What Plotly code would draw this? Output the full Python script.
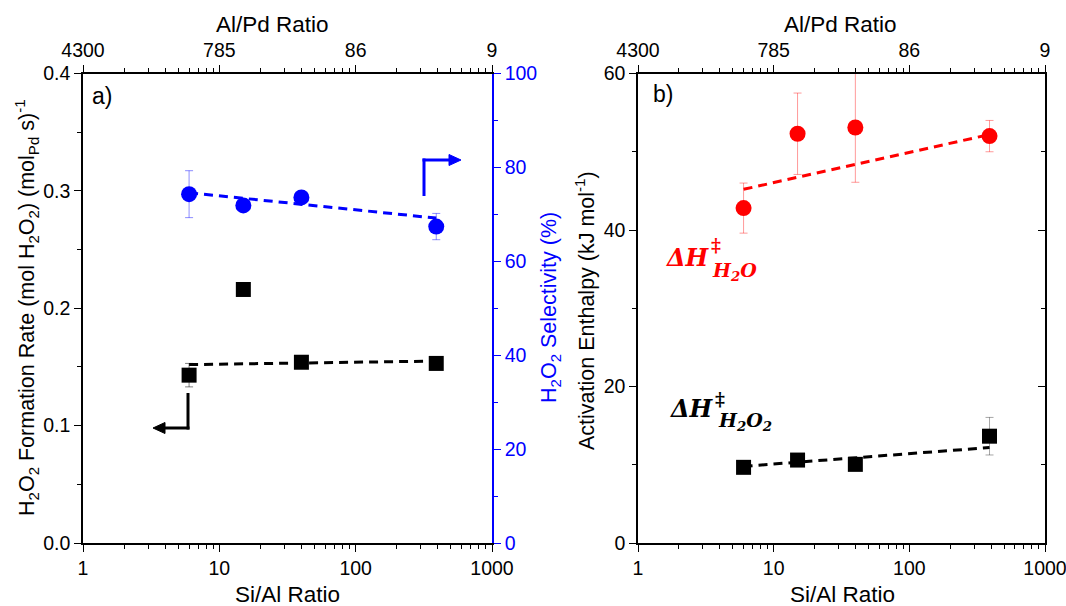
import plotly.graph_objects as go

# ---------------- data ----------------
si_al = [6, 15, 40, 390]
rate_h2o2 = [0.143, 0.216, 0.154, 0.153]
rate_err = [0.01, 0.005, 0.005, 0.005]
selectivity = [74.3, 71.9, 73.6, 67.4]
selectivity_err = [5.0, 1.0, 1.0, 2.8]
fit_x = [6, 390]
rate_fit = [0.152, 0.155]
sel_fit = [74.6, 69.2]

dh_h2o = [42.8, 52.3, 53.1, 52.0]
dh_h2o_err = [3.2, 5.2, 7.0, 2.0]
dh_h2o2 = [9.67, 10.6, 10.05, 13.65]
dh_h2o2_err = [0.5, 0.5, 0.5, 2.4]
dh_h2o_fit = [45.2, 52.2]
dh_h2o2_fit = [9.8, 12.2]

bottom_ticks = [1, 10, 100, 1000]
bottom_text = ["1", "10", "100", "1000"]
top_text = ["4300", "785", "86", "9"]
minor_vals = [m * d for d in (1, 10, 100) for m in range(2, 10)]

W, H = 1066, 606
FONT = "Liberation Sans, Arial, sans-serif"
BLUE = "#0000FF"
RED = "#FF0000"
TICK_SIZE = 19.5
XTITLE_SIZE = 22.5
YTITLE_SIZE = 21.5


def px(x):
    return x / W


def py(y):
    return 1 - y / H


XA = [px(83), px(492)]
XB = [px(638), px(1045)]
YD = [py(543), py(73.5)]

fig = go.Figure()

# ---- panel a ----
fig.add_trace(go.Scatter(x=fit_x, y=rate_fit, mode="lines", xaxis="x", yaxis="y",
                         line=dict(color="black", width=3, dash="9px,6px"), showlegend=False))
fig.add_trace(go.Scatter(x=si_al, y=rate_h2o2, mode="markers", xaxis="x", yaxis="y",
                         marker=dict(symbol="square", size=15, color="black"),
                         error_y=dict(type="data", array=rate_err, color="rgba(0,0,0,0.5)",
                                      thickness=1, width=4),
                         showlegend=False))
fig.add_trace(go.Scatter(x=fit_x, y=sel_fit, mode="lines", xaxis="x", yaxis="y2",
                         line=dict(color=BLUE, width=3, dash="9px,6px"), showlegend=False))
fig.add_trace(go.Scatter(x=si_al, y=selectivity, mode="markers", xaxis="x", yaxis="y2",
                         marker=dict(symbol="circle", size=16, color=BLUE),
                         error_y=dict(type="data", array=selectivity_err, color="rgba(0,0,255,0.45)",
                                      thickness=1, width=4),
                         showlegend=False))
fig.add_trace(go.Scatter(x=[10], y=[0.2], mode="markers", xaxis="x2", yaxis="y",
                         marker=dict(opacity=0), showlegend=False, hoverinfo="skip"))

# ---- panel b ----
fig.add_trace(go.Scatter(x=fit_x, y=dh_h2o_fit, mode="lines", xaxis="x3", yaxis="y3",
                         line=dict(color=RED, width=3, dash="9px,6px"), showlegend=False))
fig.add_trace(go.Scatter(x=si_al, y=dh_h2o, mode="markers", xaxis="x3", yaxis="y3",
                         marker=dict(symbol="circle", size=16, color=RED),
                         error_y=dict(type="data", array=dh_h2o_err, color="rgba(255,0,0,0.4)",
                                      thickness=1, width=4),
                         showlegend=False))
fig.add_trace(go.Scatter(x=fit_x, y=dh_h2o2_fit, mode="lines", xaxis="x3", yaxis="y3",
                         line=dict(color="black", width=3, dash="9px,6px"), showlegend=False))
fig.add_trace(go.Scatter(x=si_al, y=dh_h2o2, mode="markers", xaxis="x3", yaxis="y3",
                         marker=dict(symbol="square", size=15, color="black"),
                         error_y=dict(type="data", array=dh_h2o2_err, color="rgba(0,0,0,0.35)",
                                      thickness=1, width=4),
                         showlegend=False))
fig.add_trace(go.Scatter(x=[10], y=[30], mode="markers", xaxis="x4", yaxis="y3",
                         marker=dict(opacity=0), showlegend=False, hoverinfo="skip"))
fig.add_trace(go.Scatter(x=[10], y=[30], mode="markers", xaxis="x3", yaxis="y4",
                         marker=dict(opacity=0), showlegend=False, hoverinfo="skip"))

tickfont = dict(family=FONT, size=TICK_SIZE, color="black")
common_x = dict(type="log", range=[0, 3], showgrid=False, zeroline=False, showline=True,
                automargin=False, ticklabeloverflow="allow",
                linecolor="black", linewidth=1.5, ticks="outside", ticklen=7, tickwidth=1.3,
                tickcolor="black", tickmode="array", tickvals=bottom_ticks,
                minor=dict(tickmode="array", tickvals=minor_vals, ticks="outside", ticklen=4,
                           tickwidth=1.2, tickcolor="black", showgrid=False),
                tickfont=tickfont)

fig.update_layout(
    width=W, height=H, margin=dict(l=0, r=0, t=0, b=0, autoexpand=False),
    paper_bgcolor="white", plot_bgcolor="white",
    xaxis=dict(domain=XA, anchor="y", ticktext=bottom_text, **common_x),
    xaxis2=dict(overlaying="x", side="top", anchor="y", ticktext=top_text, **common_x),
    yaxis=dict(domain=YD, anchor="x", range=[0, 0.4], showgrid=False, zeroline=False,
               automargin=False, ticklabeloverflow="allow",
               showline=True, linecolor="black", linewidth=1.5, ticks="outside", ticklen=7,
               tickwidth=1.3, tickcolor="black", tickvals=[0, 0.1, 0.2, 0.3, 0.4],
               ticktext=["0.0", "0.1", "0.2", "0.3", "0.4"], tickfont=tickfont,
               minor=dict(tickmode="array", tickvals=[0.05, 0.15, 0.25, 0.35], ticks="outside",
                          ticklen=4, tickwidth=1.2, tickcolor="black", showgrid=False)),
    yaxis2=dict(overlaying="y", side="right", anchor="x", range=[0, 100], showgrid=False,
                automargin=False, ticklabeloverflow="allow",
                zeroline=False, showline=True, linecolor=BLUE, linewidth=1.5, ticks="outside",
                ticklen=7, tickwidth=1.3, tickcolor=BLUE, tickvals=[0, 20, 40, 60, 80, 100],
                tickfont=dict(family=FONT, size=TICK_SIZE, color=BLUE),
                minor=dict(tickmode="array", tickvals=[10, 30, 50, 70, 90], ticks="outside",
                           ticklen=4, tickwidth=1.2, tickcolor=BLUE, showgrid=False)),
    xaxis3=dict(domain=XB, anchor="y3", ticktext=bottom_text, **common_x),
    xaxis4=dict(overlaying="x3", side="top", anchor="y3", ticktext=top_text, **common_x),
    yaxis3=dict(domain=YD, anchor="x3", range=[0, 60], showgrid=False, zeroline=False,
                automargin=False, ticklabeloverflow="allow",
                showline=True, linecolor="black", linewidth=1.5, ticks="outside", ticklen=7,
                tickwidth=1.3, tickcolor="black", tickvals=[0, 20, 40, 60], tickfont=tickfont,
                minor=dict(tickmode="array", tickvals=[10, 30, 50], ticks="outside",
                           ticklen=4, tickwidth=1.2, tickcolor="black", showgrid=False)),
    yaxis4=dict(overlaying="y3", side="right", anchor="x3", range=[0, 60], showgrid=False,
                automargin=False,
                zeroline=False, showline=True, linecolor="black", linewidth=1.5, ticks="inside",
                ticklen=7, tickwidth=1.3, tickcolor="black", tickvals=[0, 20, 40, 60],
                showticklabels=False,
                minor=dict(tickmode="array", tickvals=[10, 30, 50], ticks="inside",
                           ticklen=4, tickwidth=1.2, tickcolor="black", showgrid=False)),
)

ann = []


def text(x, y, s, size=20, color="black", angle=0, family=FONT):
    ann.append(dict(x=px(x), y=py(y), xref="paper", yref="paper", text=s, showarrow=False,
                    textangle=angle, xanchor="center", yanchor="middle",
                    font=dict(family=family, size=size, color=color)))


# axis titles
text(272, 24, "Al/Pd Ratio", XTITLE_SIZE)
text(840, 24, "Al/Pd Ratio", XTITLE_SIZE)
text(287, 594, "Si/Al Ratio", XTITLE_SIZE)
text(842, 594, "Si/Al Ratio", XTITLE_SIZE)
text(26, 308, "H<sub>2</sub>O<sub>2</sub> Formation Rate (mol H<sub>2</sub>O<sub>2</sub>) (mol<sub>Pd</sub> s)<sup>-1</sup>",
     YTITLE_SIZE, angle=-90)
text(550, 308, "H<sub>2</sub>O<sub>2</sub> Selectivity (%)", YTITLE_SIZE, color=BLUE, angle=-90)
text(585, 311, "Activation Enthalpy (kJ mol<sup>-1</sup>)", YTITLE_SIZE, angle=-90)
# panel labels
text(102, 96, "a)", 23)
text(663, 94, "b)", 23)

# Delta H labels
SERIF = "DejaVu Serif, serif"
for (cx, cy, col, sub, sx, sy, dx, dy) in [
    (688, 257, RED, "H<sub>2</sub>O", 734, 271, 716, 245),
    (692, 408, "black", "H<sub>2</sub>O<sub>2</sub>", 745, 421, 720, 399),
]:
    text(cx, cy, "<b><i>ΔH</i></b>", 24, color=col, family=SERIF)
    text(sx, sy, "<b><i>" + sub + "</i></b>", 19, color=col, family=SERIF)
    text(dx, dy, "<b>‡</b>", 19, color=col, family=SERIF)


# arrows (lines + triangular heads)
def seg(x0, y0, x1, y1, col):
    return dict(type="line", xref="paper", yref="paper", x0=px(x0), x1=px(x1), y0=py(y0),
                y1=py(y1), line=dict(color=col, width=3))


def head(x, y, direction, col):
    L, hw = 12, 5.5
    pts = [(x, y), (x - direction * L, y - hw), (x - direction * L, y + hw)]
    path = "M " + " L ".join(f"{px(a)},{py(b)}" for a, b in pts) + " Z"
    return dict(type="path", xref="paper", yref="paper", path=path, fillcolor=col,
                line=dict(color=col, width=1))


shapes = [
    seg(188, 393, 188, 429.5, "black"),
    seg(189.5, 428, 164, 428, "black"),
    head(153, 428, -1, "black"),
    seg(424, 196, 424, 158.5, BLUE),
    seg(422.5, 160, 450, 160, BLUE),
    head(461, 160, 1, BLUE),
]

fig.update_layout(annotations=ann, shapes=shapes)
fig.write_html("out.html")
